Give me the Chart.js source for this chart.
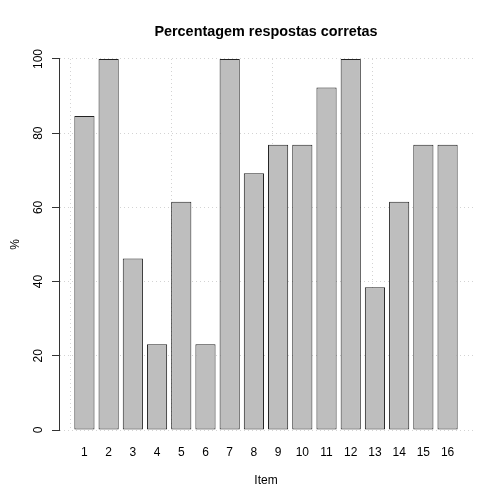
<!DOCTYPE html>
<html>
<head>
<meta charset="utf-8">
<script src="https://cdn.jsdelivr.net/npm/chart.js@4/dist/chart.umd.min.js"></script>
<style>
  html, body { margin: 0; padding: 0; background: #fff; }
  canvas { display: block; }
</style>
</head>
<body>
<canvas id="grafico" width="504" height="504"></canvas>
<script>
// Datos del grafico
const items = ['1', '2', '3', '4', '5', '6', '7', '8', '9', '10', '11', '12', '13', '14', '15', '16'];
const pct = [84.6, 100, 46.2, 23.1, 61.5, 23.1, 100, 69.2, 76.9, 76.9, 92.3, 100, 38.5, 61.5, 76.9, 76.9];
const yTicks = [0, 20, 40, 60, 80, 100];
const gridX = [0, 5, 10, 15]; // lineas verticales de la grilla (coordenadas de barplot)

// Posicion de cada barra como en barplot de R (ancho 1, espacio 0.2)
const barCenters = items.map((_, i) => 0.7 + 1.2 * i);
const xMin = -0.56, xMax = 19.96;

Chart.defaults.font.family = "'Liberation Sans', Arial, sans-serif";
Chart.defaults.color = '#000';

const gridColor = '#D3D3D3';
const axisColor = '#333';

const ctx = document.getElementById('grafico').getContext('2d');
const chart = new Chart(ctx, {
    type: 'bar',
    data: {
        datasets: [{
            label: '%',
            data: pct.map((v, i) => ({ x: barCenters[i], y: v })),
            backgroundColor: '#BEBEBE',
            borderColor: '#222',
            borderWidth: 1,
            borderSkipped: false,
            categoryPercentage: 1,
            barPercentage: 1 / 1.2
        }]
    },
    options: {
        responsive: false,
        animation: false,
        devicePixelRatio: 1,
        layout: { padding: { left: 0, right: 31, top: 0, bottom: 0 } },
        plugins: {
            legend: { display: false },
            tooltip: { enabled: false },
            title: {
                display: true,
                text: 'Percentagem respostas corretas',
                fullSize: false,
                font: { size: 14.4, weight: 'bold' },
                color: '#000',
                padding: { top: 23.4, bottom: 18.3 }
            }
        },
        scales: {
            x: {
                type: 'linear',
                position: 'bottom',
                min: xMin,
                max: xMax,
                offset: false,
                afterBuildTicks: s => { s.ticks = barCenters.map(v => ({ value: v })); },
                afterFit: s => { s.height = 74; },
                grid: { display: false, drawTicks: false, offset: false },
                border: { display: false },
                ticks: {
                    autoSkip: false,
                    maxRotation: 0,
                    padding: 15,
                    font: { size: 12 },
                    callback: (value, index) => items[index]
                },
                title: {
                    display: true,
                    text: 'Item',
                    font: { size: 12 },
                    padding: { top: 14, bottom: 16 }
                }
            },
            x2: {
                type: 'linear',
                position: 'top',
                min: xMin,
                max: xMax,
                offset: false,
                z: 1,
                afterBuildTicks: s => { s.ticks = gridX.map(v => ({ value: v })); },
                afterFit: s => { s.height = 0; },
                ticks: { display: false },
                grid: { color: gridColor, lineWidth: 1, drawTicks: false, offset: false, borderDash: [1, 3] },
                border: { display: false, dash: [1, 3] }
            },
            y: {
                min: 0,
                max: 100,
                z: 1,
                afterBuildTicks: s => { s.ticks = yTicks.map(v => ({ value: v })); },
                afterFit: s => { s.width = 59; },
                grid: {
                    color: gridColor,
                    lineWidth: 1,
                    borderDash: [1, 3],
                    tickLength: 7,
                    tickColor: axisColor,
                    tickWidth: 1
                },
                border: { display: true, color: axisColor, width: 1, dash: [1, 3] },
                ticks: {
                    minRotation: 90,
                    maxRotation: 90,
                    crossAlign: 'center',
                    padding: 3,
                    font: { size: 12 }
                },
                title: {
                    display: true,
                    text: '%',
                    font: { size: 12 },
                    padding: { top: 8, bottom: 0 }
                }
            }
        }
    }
});
</script>
</body>
</html>
